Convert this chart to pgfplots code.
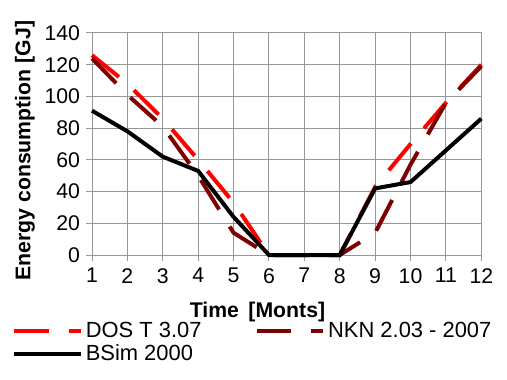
\documentclass[border=0pt]{standalone}
\usepackage{pgfplots}
\pgfplotsset{compat=1.18}
\usepackage{fontspec}
\setmainfont{Liberation Sans}
\definecolor{dosred}{RGB}{255,0,0}
\definecolor{nkndark}{RGB}{128,0,0}
\definecolor{gridgray}{RGB}{150,150,150}
\begin{document}
\begin{tikzpicture}
\path[use as bounding box] (-69bp,-93.75bp) rectangle (311.25bp,191.25bp);
\begin{axis}[
  at={(0,0)}, anchor=south west,
  scale only axis,
  width=292bp, height=166.5bp,
  xmin=1, xmax=12, ymin=0, ymax=140,
  xtick={1,...,12}, ytick={0,20,...,140},
  grid=major,
  grid style={gridgray, line width=0.75bp},
  axis line style={gridgray, line width=0.75bp},
  tick style={gridgray, line width=0.75bp},
  tick align=outside, tick pos=left,
  major tick length=4.5bp,
  clip=false,
  /pgf/number format/assume math mode=true,
  ticklabel style={font=\fontsize{16}{19}\selectfont},
  yticklabel style={xshift=-1bp},
  xticklabel style={yshift=-2bp},
  xlabel={Time\, [Monts]},
  ylabel={Energy consumption [GJ]},
  label style={font=\fontsize{16}{19}\selectfont\bfseries},
  xlabel style={at={(axis description cs:0.425,-0.255)}, anchor=center},
  ylabel style={at={(axis description cs:-0.172,0.47)}, anchor=center},
  legend columns=2,
  legend style={at={(axis description cs:-0.205,-0.29)}, anchor=north west,
    draw=none, fill=none, font=\fontsize{16.5}{20}\selectfont,
    /tikz/every even column/.append style={column sep=38bp},
    row sep=0bp, inner sep=0pt},
  legend cell align=left,
  legend image code/.code={\draw[#1] (0bp,0bp) -- (50bp,0bp);},
]
\addplot[dosred, line width=3bp, dash pattern=on 26bp off 15bp] coordinates {
(1,126) (2,108) (3,86) (4,60) (5,33) (6,0) (7,0) (8,0) (9,43) (10,70) (11,96) (12,120)};
\addlegendentry{DOS T 3.07}
\addplot[nkndark, line width=3bp, dash pattern=on 26bp off 15bp] coordinates {
(1,124) (2,101) (3,81) (4,50) (5,14) (6,0) (7,0) (8,0) (9,14) (10,57) (11,96) (12,119)};
\addlegendentry{NKN 2.03 - 2007}
\addplot[black, line width=3bp] coordinates {
(1,91) (2,78) (3,62) (4,53) (5,24) (6,0) (7,0) (8,0) (9,42) (10,46) (11,66) (12,86)};
\addlegendentry{BSim 2000}
\end{axis}
\end{tikzpicture}
\end{document}
